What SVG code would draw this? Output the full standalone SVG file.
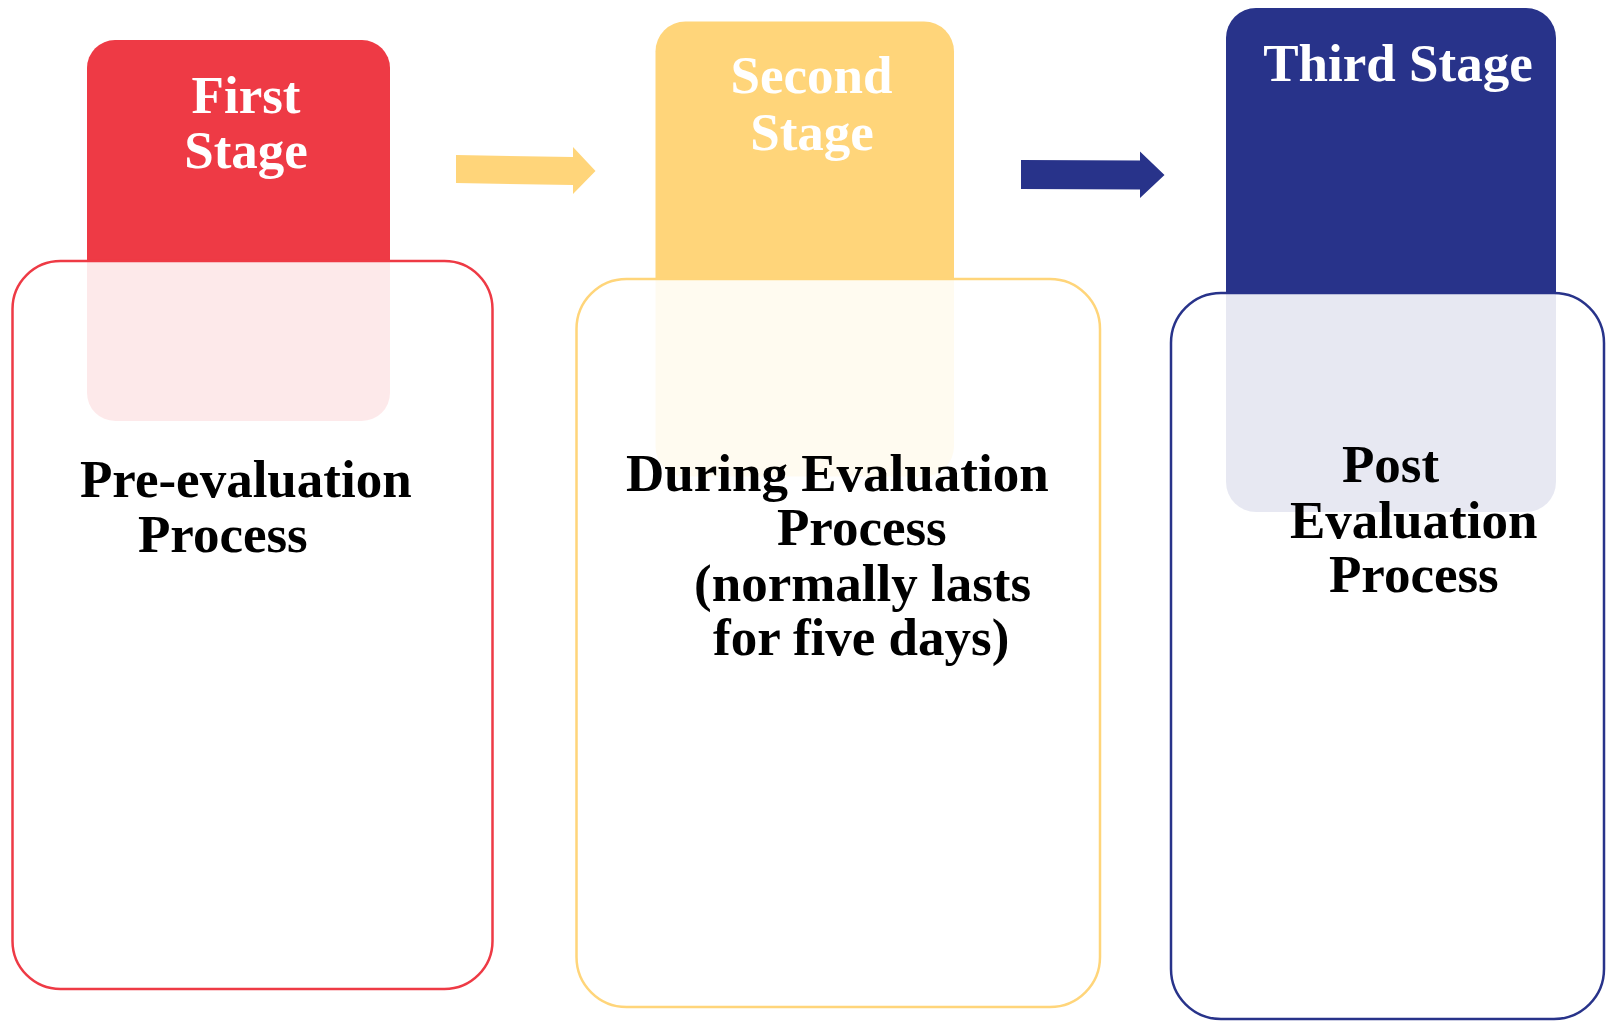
<svg xmlns="http://www.w3.org/2000/svg" width="1606" height="1021" viewBox="0 0 1606 1021">
<style>
.t{font-family:"Liberation Serif","Times New Roman",serif;font-weight:bold;font-size:53px}
.w{fill:#ffffff}
.k{fill:#000000}
.box{fill:#ffffff;fill-opacity:0.89;stroke-width:2.5}
</style>
<rect width="1606" height="1021" fill="#ffffff"/>
<g id="stage1">
<rect x="87" y="40" width="303" height="381" rx="28" fill="#EE3A45"/>
<rect class="box" x="12.5" y="261" width="480" height="728" rx="48" stroke="#EE3A45"/>
<text class="t w" x="246" y="113" text-anchor="middle">First</text>
<text class="t w" x="246" y="168" text-anchor="middle">Stage</text>
<text class="t k" x="80" y="497">Pre-evaluation</text>
<text class="t k" x="138" y="552">Process</text>
</g>
<g id="stage2">
<rect x="655.5" y="21.5" width="298.5" height="455" rx="30" fill="#FFD57A"/>
<rect class="box" x="576.5" y="279" width="523.5" height="728" rx="50" stroke="#FFD57A"/>
<text class="t w" x="811.5" y="93" text-anchor="middle">Second</text>
<text class="t w" x="812" y="149.5" text-anchor="middle">Stage</text>
<text class="t k" x="626" y="491">During Evaluation</text>
<text class="t k" x="777" y="545">Process</text>
<text class="t k" x="694" y="600.5">(normally lasts</text>
<text class="t k" x="713" y="655">for five days)</text>
</g>
<g id="stage3">
<rect x="1226" y="8" width="330" height="504" rx="30" fill="#28338A"/>
<rect class="box" x="1171" y="293" width="433" height="726" rx="50" stroke="#28338A"/>
<text class="t w" x="1398" y="81" text-anchor="middle">Third Stage</text>
<text class="t k" x="1342" y="482">Post</text>
<text class="t k" x="1290" y="537.5">Evaluation</text>
<text class="t k" x="1329" y="591.5">Process</text>
</g>
<g id="connectors">
<polygon points="456,155 573,157 573,147 595.5,171 573,194 573,185 456,183" fill="#FFD57A"/>
<polygon points="1021,160 1140,160.5 1140,151.5 1164.5,175 1140,198 1140,189.5 1021,189" fill="#28338A"/>
</g>
</svg>
